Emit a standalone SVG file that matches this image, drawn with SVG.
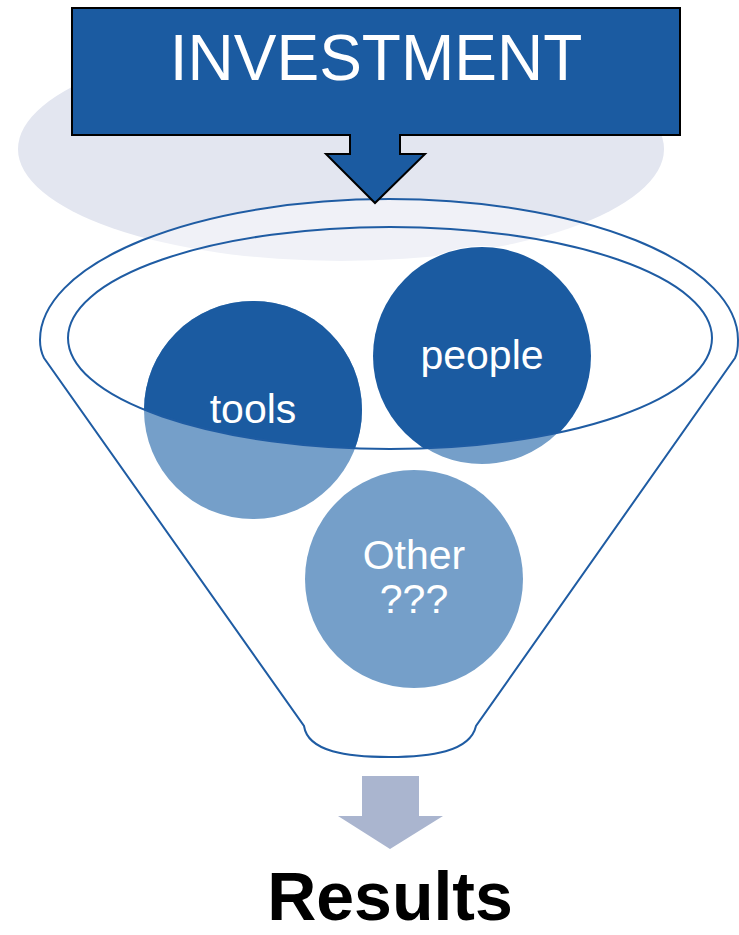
<svg xmlns="http://www.w3.org/2000/svg" width="739" height="935" viewBox="0 0 739 935">
  <style>
    .label { font-family: "Liberation Sans", Arial, sans-serif; fill: #ffffff; text-anchor: middle; }
    .rim { fill: none; stroke: #1f5ca3; stroke-width: 2; }
    .dark { fill: #1b5ba1; }
    .light { fill: #759fc9; }
  </style>
  <defs>
    <clipPath id="mouth">
      <ellipse cx="390" cy="338" rx="322" ry="111"/>
    </clipPath>
  </defs>

  <rect width="739" height="935" fill="#ffffff"/>

  <!-- soft backdrop behind the callout -->
  <ellipse cx="341" cy="149" rx="323" ry="112" fill="#e3e6f0"/>

  <!-- funnel body -->
  <g id="node-funnel">
    <path d="M40 340 A349 141 0 0 1 738 340 C738 347 738 352 735 358 L476 726 C470 752 430 757 389 757 C348 757 308 752 304 726 L44 358 C41 352 40 347 40 340 Z"
          fill="#ffffff" fill-opacity="0.45" stroke="#1f5ca3" stroke-width="2"/>
  </g>

  <!-- callout box with arrow -->
  <g id="node-investment">
    <path d="M72 8 H680 V135 H400 V154 H425 L375 203 L326 154 H350 V135 H72 Z"
          fill="#1b5ba1" stroke="#000000" stroke-width="2"/>
    <text class="label" x="376" y="80" font-size="64">INVESTMENT</text>
  </g>

  <!-- items in the funnel: lighter below the mouth, darker inside it -->
  <g id="node-tools">
    <circle class="light" cx="253" cy="410" r="109"/>
    <circle class="dark" cx="253" cy="410" r="109" clip-path="url(#mouth)"/>
    <text class="label" x="253" y="423" font-size="41">tools</text>
  </g>
  <g id="node-people">
    <circle class="light" cx="482" cy="356" r="109" stroke="#ffffff" stroke-width="2"/>
    <circle class="dark" cx="482" cy="356" r="109" clip-path="url(#mouth)"/>
    <text class="label" x="482" y="369" font-size="41">people</text>
  </g>
  <g id="node-other">
    <circle class="light" cx="414" cy="579" r="109"/>
    <text class="label" x="414" y="569" font-size="41">Other</text>
    <text class="label" x="414" y="613" font-size="41">???</text>
  </g>

  <!-- funnel mouth rim drawn over the items -->
  <ellipse class="rim" cx="390" cy="338" rx="322" ry="111"/>

  <g id="connectors">
    <path d="M362 776 H419 V816 H443 L390 849 L338 816 H362 Z" fill="#aab5cf"/>
  </g>

  <g id="node-results">
    <text x="390" y="920" font-family="'Liberation Sans', Arial, sans-serif" font-weight="bold" font-size="68" text-anchor="middle" fill="#000000">Results</text>
  </g>
</svg>
